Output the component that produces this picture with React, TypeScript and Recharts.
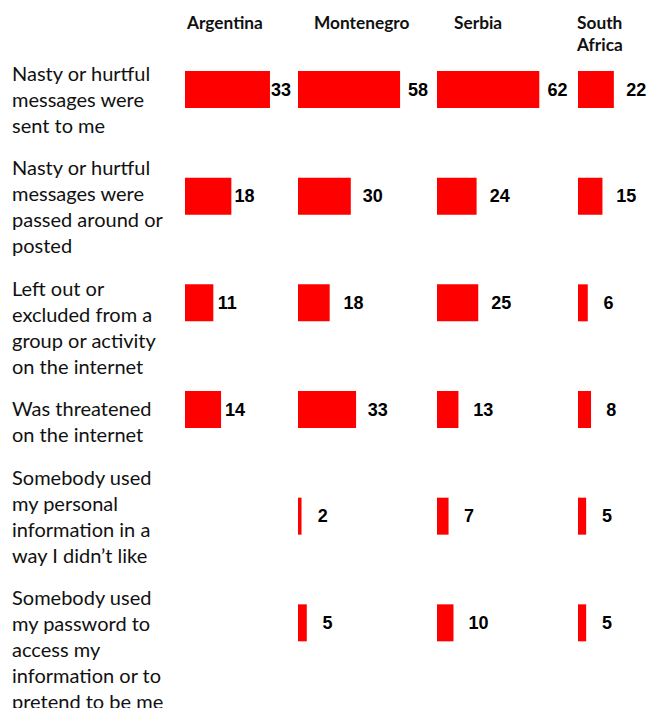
import React from 'react';
import { BarChart, Bar, XAxis, YAxis, LabelList } from 'recharts';

const countries = ['Argentina', 'Montenegro', 'Serbia', 'South Africa'];
const categoryLines: string[][] = [
  ['Nasty or hurtful', 'messages were', 'sent to me'],
  ['Nasty or hurtful', 'messages were', 'passed around or', 'posted'],
  ['Left out or', 'excluded from a', 'group or activity', 'on the internet'],
  ['Was threatened', 'on the internet'],
  ['Somebody used', 'my personal', 'information in a', 'way I didn\u2019t like'],
  ['Somebody used', 'my password to', 'access my', 'information or to', 'pretend to be me'],
];
const categories = categoryLines.map((l) => l.join(' '));

const argentinaValues = [33, 18, 11, 14, null, null];
const montenegroValues = [58, 30, 18, 33, 2, 5];
const serbiaValues = [62, 24, 25, 13, 7, 10];
const southAfricaValues = [22, 15, 6, 8, 5, 5];

const seriesValues = [argentinaValues, montenegroValues, serbiaValues, southAfricaValues];

type ColStyle = {
  left: number;
  domainMax: number;
  scale: number;
  width: number;
  labelRatio: number;
  labelGap: number;
  headerX: number;
  headerLines: string[];
};

const colStyles: ColStyle[] = [
  { left: 185, domainMax: 45, scale: 2.575, width: 125, labelRatio: 0.94, labelGap: 6, headerX: 187, headerLines: ['Argentina'] },
  { left: 298, domainMax: 75, scale: 1.76, width: 140, labelRatio: 0.915, labelGap: 16.5, headerX: 314, headerLines: ['Montenegro'] },
  { left: 437, domainMax: 80, scale: 1.65, width: 140, labelRatio: 0.92, labelGap: 16.4, headerX: 454, headerLines: ['Serbia'] },
  { left: 578, domainMax: 40, scale: 1.63, width: 70, labelRatio: 0.87, labelGap: 17, headerX: 577, headerLines: ['South', 'Africa'] },
];

const CALIBRI = 'Lato, "Open Sans", sans-serif';
const ARIAL = '"Liberation Sans", Arial, sans-serif';

const makeLabel = (st: ColStyle) => (props: any) => {
  const { x, y, width, height, value } = props;
  if (value === null || value === undefined) return null;
  const lx = Number(x) + Number(width) * st.labelRatio + st.labelGap;
  const ly = Number(y) + Number(height) / 2;
  return (
    <text
      x={lx}
      y={ly}
      dominantBaseline="central"
      fontFamily={ARIAL}
      fontWeight={700}
      fontSize={18}
      fill="#000"
    >
      {value}
    </text>
  );
};

export default function App() {
  return (
    <div
      style={{
        position: 'absolute',
        left: 0,
        top: 0,
        width: 648,
        height: 708,
        overflow: 'hidden',
        background: '#fff',
      }}
    >
      {/* Row labels */}
      <div
        style={{
          position: 'absolute',
          left: 12,
          top: 60,
          fontFamily: CALIBRI,
          fontSize: 20,
          lineHeight: '26px',
          color: '#111',
          whiteSpace: 'nowrap',
        }}
      >
        {categoryLines.map((lines, i) => (
          <div key={i} title={categories[i]} style={{ marginBottom: 16.4 }}>
            {lines.map((ln, j) => (
              <div key={j}>{ln}</div>
            ))}
          </div>
        ))}
      </div>

      {/* Column headers */}
      {colStyles.map((st, c) => (
        <div
          key={'h' + c}
          title={countries[c]}
          style={{
            position: 'absolute',
            left: st.headerX,
            top: 11.5,
            fontFamily: CALIBRI,
            fontWeight: 700,
            fontSize: 17.3,
            lineHeight: '22.3px',
            color: '#111',
            whiteSpace: 'nowrap',
          }}
        >
          {st.headerLines.map((ln, j) => (
            <div key={j}>{ln}</div>
          ))}
        </div>
      ))}

      {/* One bar chart per country */}
      {colStyles.map((st, c) => {
        const data = categories.map((cat, i) => ({ category: cat, value: seriesValues[c][i] }));
        const plotWidth = st.domainMax * st.scale;
        return (
          <div key={'c' + c} style={{ position: 'absolute', left: st.left, top: 0 }}>
            <BarChart
              width={st.width}
              height={708}
              layout="vertical"
              data={data}
              margin={{ top: 36, bottom: 32, left: 0, right: st.width - plotWidth }}
              barSize={37}
            >
              <XAxis type="number" domain={[0, st.domainMax]} hide />
              <YAxis type="category" dataKey="category" hide />
              <Bar dataKey="value" fill="#FF0000" isAnimationActive={false}>
                <LabelList dataKey="value" content={makeLabel(st)} />
              </Bar>
            </BarChart>
          </div>
        );
      })}
    </div>
  );
}
